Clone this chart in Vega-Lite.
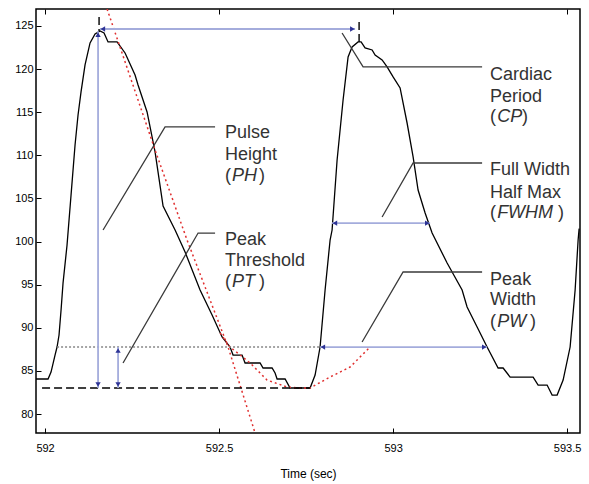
{
 "$schema": "https://vega.github.io/schema/vega-lite/v6.json",
 "width": 544, "height": 424,
 "autosize": {"type": "none"},
 "padding": {"left": 36, "top": 9, "right": 9, "bottom": 51},
 "background": "white",
 "config": {"view": {"stroke": "black", "strokeWidth": 1.5}, "font": "Liberation Sans"},
 "resolve": {"axis": {"x": "independent", "y": "independent"}},
 "datasets": {
  "curve": [
   {"t":591.974,"v":84.06},{"t":592.0086,"v":84.06},{"t":592.0172,"v":84.87},{"t":592.0287,"v":86.84},
   {"t":592.0345,"v":87.77},{"t":592.0402,"v":89.16},{"t":592.046,"v":92.06},{"t":592.0517,"v":95.19},
   {"t":592.0632,"v":99.6},{"t":592.0747,"v":105.4},{"t":592.0862,"v":111.2},{"t":592.0948,"v":114.68},
   {"t":592.1034,"v":117.35},{"t":592.1149,"v":120.48},{"t":592.1293,"v":123.03},{"t":592.1437,"v":124.07},
   {"t":592.158,"v":124.42},{"t":592.1695,"v":124.19},{"t":592.181,"v":123.15},{"t":592.2069,"v":123.15},
   {"t":592.2299,"v":121.87},{"t":592.2586,"v":119.32},{"t":592.2672,"v":118.16},{"t":592.2931,"v":115.03},
   {"t":592.3161,"v":110.39},{"t":592.3391,"v":104.12},{"t":592.3736,"v":101.34},{"t":592.4023,"v":98.79},
   {"t":592.4454,"v":94.38},{"t":592.4799,"v":91.48},{"t":592.5086,"v":88.93},{"t":592.5316,"v":87.77},
   {"t":592.5402,"v":86.84},{"t":592.5661,"v":86.84},{"t":592.5747,"v":85.92},{"t":592.6178,"v":85.92},
   {"t":592.6264,"v":85.34},{"t":592.6523,"v":85.34},{"t":592.6609,"v":84.76},{"t":592.6667,"v":84.06},
   {"t":592.6897,"v":84.06},{"t":592.704,"v":83.02},{"t":592.7615,"v":83.02},{"t":592.7759,"v":84.52},
   {"t":592.7902,"v":87.77},{"t":592.8046,"v":94.38},{"t":592.819,"v":100.18},{"t":592.8247,"v":101.34},
   {"t":592.8391,"v":109.46},{"t":592.8563,"v":116.42},{"t":592.8707,"v":121.41},{"t":592.8822,"v":122.57},
   {"t":592.8994,"v":123.15},{"t":592.908,"v":123.15},{"t":592.9195,"v":122.45},{"t":592.9397,"v":122.22},
   {"t":592.9483,"v":121.64},{"t":592.9684,"v":121.06},{"t":592.9828,"v":120.25},{"t":593.0,"v":119.09},
   {"t":593.0201,"v":117.81},{"t":593.0402,"v":113.75},{"t":593.0575,"v":109.81},{"t":593.0718,"v":105.98},
   {"t":593.092,"v":103.31},{"t":593.1121,"v":101.0},{"t":593.1552,"v":97.51},{"t":593.1983,"v":94.38},
   {"t":593.2126,"v":92.41},{"t":593.2414,"v":90.09},{"t":593.2701,"v":87.77},{"t":593.3017,"v":85.34},
   {"t":593.3161,"v":85.34},{"t":593.3362,"v":84.29},{"t":593.4023,"v":84.29},{"t":593.4167,"v":83.36},
   {"t":593.4425,"v":83.36},{"t":593.4569,"v":82.2},{"t":593.4713,"v":82.2},{"t":593.4885,"v":83.94},
   {"t":593.5086,"v":87.77},{"t":593.523,"v":94.38},{"t":593.5316,"v":100.18},{"t":593.5345,"v":101.5}
  ],
  "fits": [
   {"s":"a","t":592.1782,"v":126.97},{"s":"a","t":592.3161,"v":110.62},{"s":"a","t":592.408,"v":100.18},
   {"s":"a","t":592.5259,"v":87.77},{"s":"a","t":592.6034,"v":77.8},
   {"s":"b","t":592.5029,"v":89.39},{"s":"b","t":592.5316,"v":87.77},{"s":"b","t":592.5891,"v":85.92},
   {"s":"b","t":592.6379,"v":83.94},{"s":"b","t":592.6954,"v":83.13},{"s":"b","t":592.7328,"v":83.02},
   {"s":"b","t":592.7615,"v":83.02},{"s":"b","t":592.819,"v":84.29},{"s":"b","t":592.8764,"v":85.45},
   {"s":"b","t":592.9339,"v":87.77}
  ],
  "dashed": [
   {"t":591.9914,"t2":592.7615,"v":83.02,"v2":83.02},
   {"t":592.1552,"t2":592.1552,"v":126.05,"v2":124.3},
   {"t":592.9023,"t2":592.9023,"v":125.46,"v2":123.15}
  ],
  "dotted": [
   {"t":592.0345,"t2":592.7902,"v":87.77,"v2":87.77}
  ],
  "arrows": [
   {"name":"CP","t":592.158,"t2":592.8908,"v":124.65,"v2":124.65},
   {"name":"PH","t":592.1523,"t2":592.1523,"v":124.4,"v2":83.02},
   {"name":"PT","t":592.2098,"t2":592.2098,"v":87.77,"v2":83.02},
   {"name":"PW","t":592.7902,"t2":593.2701,"v":87.77,"v2":87.77},
   {"name":"FWHM","t":592.8247,"t2":593.1063,"v":102.13,"v2":102.13}
  ],
  "heads": [
   {"t":592.166,"v":124.65,"dir":"triangle-left"},{"t":592.883,"v":124.65,"dir":"triangle-right"},
   {"t":592.1523,"v":124.0,"dir":"triangle-up"},{"t":592.1523,"v":83.42,"dir":"triangle-down"},
   {"t":592.2098,"v":87.37,"dir":"triangle-up"},{"t":592.2098,"v":83.42,"dir":"triangle-down"},
   {"t":592.7982,"v":87.77,"dir":"triangle-left"},{"t":593.2621,"v":87.77,"dir":"triangle-right"},
   {"t":592.8327,"v":102.13,"dir":"triangle-left"},{"t":593.0983,"v":102.13,"dir":"triangle-right"}
  ],
  "leaders": [
   {"id":"PH","t":592.1667,"v":101.34},{"id":"PH","t":592.3448,"v":113.29},{"id":"PH","t":592.4885,"v":113.29},
   {"id":"PT","t":592.2241,"v":85.92},{"id":"PT","t":592.4397,"v":100.99},{"id":"PT","t":592.4885,"v":100.99},
   {"id":"CP","t":592.8534,"v":124.19},{"id":"CP","t":592.9138,"v":120.25},{"id":"CP","t":593.2557,"v":120.25},
   {"id":"FW","t":592.9684,"v":102.85},{"id":"FW","t":593.0575,"v":109.11},{"id":"FW","t":593.2557,"v":109.11},
   {"id":"PW","t":592.9109,"v":88.35},{"id":"PW","t":593.0287,"v":96.47},{"id":"PW","t":593.2557,"v":96.47}
  ],
  "labels": [
   {"txt":"Pulse","t":592.5172,"v":112.59},{"txt":"Height","t":592.5172,"v":110.04},
   {"txt":"(","t":592.5172,"v":107.6},{"txt":")","t":592.6149,"v":107.6},
   {"txt":"Peak","t":592.5172,"v":100.18},{"txt":"Threshold","t":592.5172,"v":97.75},
   {"txt":"(","t":592.5172,"v":95.31},{"txt":")","t":592.6149,"v":95.31},
   {"txt":"Cardiac","t":593.2787,"v":119.32},{"txt":"Period","t":593.2787,"v":116.77},
   {"txt":"(","t":593.2787,"v":114.45},{"txt":")","t":593.3707,"v":114.45},
   {"txt":"Full Width","t":593.2787,"v":108.3},{"txt":"Half Max","t":593.2787,"v":105.63},
   {"txt":"(","t":593.2787,"v":103.31},{"txt":")","t":593.4741,"v":103.31},
   {"txt":"Peak","t":593.2787,"v":95.54},{"txt":"Width","t":593.2787,"v":93.22},
   {"txt":"(","t":593.2787,"v":90.67},{"txt":")","t":593.3937,"v":90.67}
  ],
  "italic": [
   {"txt":"PH","t":592.5374,"v":107.6},{"txt":"PT","t":592.5374,"v":95.31},
   {"txt":"CP","t":593.2989,"v":114.45},{"txt":"FWHM","t":593.2989,"v":103.31},
   {"txt":"PW","t":593.2989,"v":90.67}
  ]
 },
 "layer": [
  {
   "data": {"name": "curve"},
   "mark": {"type": "line", "color": "black", "strokeWidth": 1.3, "clip": true},
   "encoding": {
    "x": {"field": "t", "type": "quantitative",
          "scale": {"domain": [591.974, 593.537], "nice": false, "zero": false},
          "axis": {"orient": "bottom", "values": [592, 592.5, 593, 593.5], "format": "~g",
                   "title": "Time (sec)", "grid": false, "domain": false, "tickSize": -5,
                   "tickColor": "black", "labelFontSize": 11, "labelColor": "black", "labelPadding": 14,
                   "titleFontSize": 12, "titleFontWeight": "normal", "titleColor": "black", "titlePadding": 15}},
    "y": {"field": "v", "type": "quantitative",
          "scale": {"domain": [77.8, 126.97], "nice": false, "zero": false},
          "axis": {"orient": "left", "values": [80, 85, 90, 95, 100, 105, 110, 115, 120, 125], "title": null, "grid": false,
                   "domain": false, "tickSize": -5, "tickColor": "black", "labelFontSize": 11,
                   "labelColor": "black", "labelPadding": 8}}
   }
  },
  {
   "data": {"name": "fits"},
   "mark": {"type": "line", "color": "#e03030", "strokeWidth": 1.5, "strokeDash": [2, 3], "clip": true},
   "encoding": {
    "x": {"field": "t", "type": "quantitative", "axis": null},
    "y": {"field": "v", "type": "quantitative", "axis": null},
    "detail": {"field": "s"}
   }
  },
  {
   "data": {"name": "dashed"},
   "mark": {"type": "rule", "color": "black", "strokeWidth": 1.4, "strokeDash": [8, 4]},
   "encoding": {
    "x": {"field": "t", "type": "quantitative",
          "axis": {"orient": "top", "values": [592, 592.5, 593, 593.5], "labels": false, "title": null,
                   "grid": false, "domain": false, "tickSize": -5, "tickColor": "black"}},
    "x2": {"field": "t2"},
    "y": {"field": "v", "type": "quantitative", "axis": null},
    "y2": {"field": "v2"}
   }
  },
  {
   "data": {"name": "dotted"},
   "mark": {"type": "rule", "color": "#888888", "strokeWidth": 1.4, "strokeDash": [2, 2]},
   "encoding": {
    "x": {"field": "t", "type": "quantitative", "axis": null},
    "x2": {"field": "t2"},
    "y": {"field": "v", "type": "quantitative", "axis": null},
    "y2": {"field": "v2"}
   }
  },
  {
   "data": {"name": "arrows"},
   "mark": {"type": "rule", "color": "#a4acdc", "strokeWidth": 1.8},
   "encoding": {
    "x": {"field": "t", "type": "quantitative", "axis": null},
    "x2": {"field": "t2"},
    "y": {"field": "v", "type": "quantitative", "axis": null},
    "y2": {"field": "v2"}
   }
  },
  {
   "data": {"name": "heads"},
   "mark": {"type": "point", "filled": true, "color": "#2e3496", "size": 28, "opacity": 1},
   "encoding": {
    "x": {"field": "t", "type": "quantitative", "axis": null},
    "y": {"field": "v", "type": "quantitative", "axis": null},
    "shape": {"field": "dir", "type": "nominal", "scale": null}
   }
  },
  {
   "data": {"name": "leaders"},
   "mark": {"type": "line", "color": "#3a3a3a", "strokeWidth": 1.3},
   "encoding": {
    "x": {"field": "t", "type": "quantitative", "axis": null},
    "y": {"field": "v", "type": "quantitative", "axis": null},
    "detail": {"field": "id"}
   }
  },
  {
   "data": {"name": "labels"},
   "mark": {"type": "text", "align": "left", "baseline": "middle", "fontSize": 18, "color": "#333333"},
   "encoding": {
    "x": {"field": "t", "type": "quantitative", "axis": null},
    "y": {"field": "v", "type": "quantitative", "axis": null},
    "text": {"field": "txt"}
   }
  },
  {
   "data": {"name": "italic"},
   "mark": {"type": "text", "align": "left", "baseline": "middle", "fontSize": 18, "fontStyle": "italic", "color": "#333333"},
   "encoding": {
    "x": {"field": "t", "type": "quantitative", "axis": null},
    "y": {"field": "v", "type": "quantitative", "axis": null},
    "text": {"field": "txt"}
   }
  }
 ]
}
